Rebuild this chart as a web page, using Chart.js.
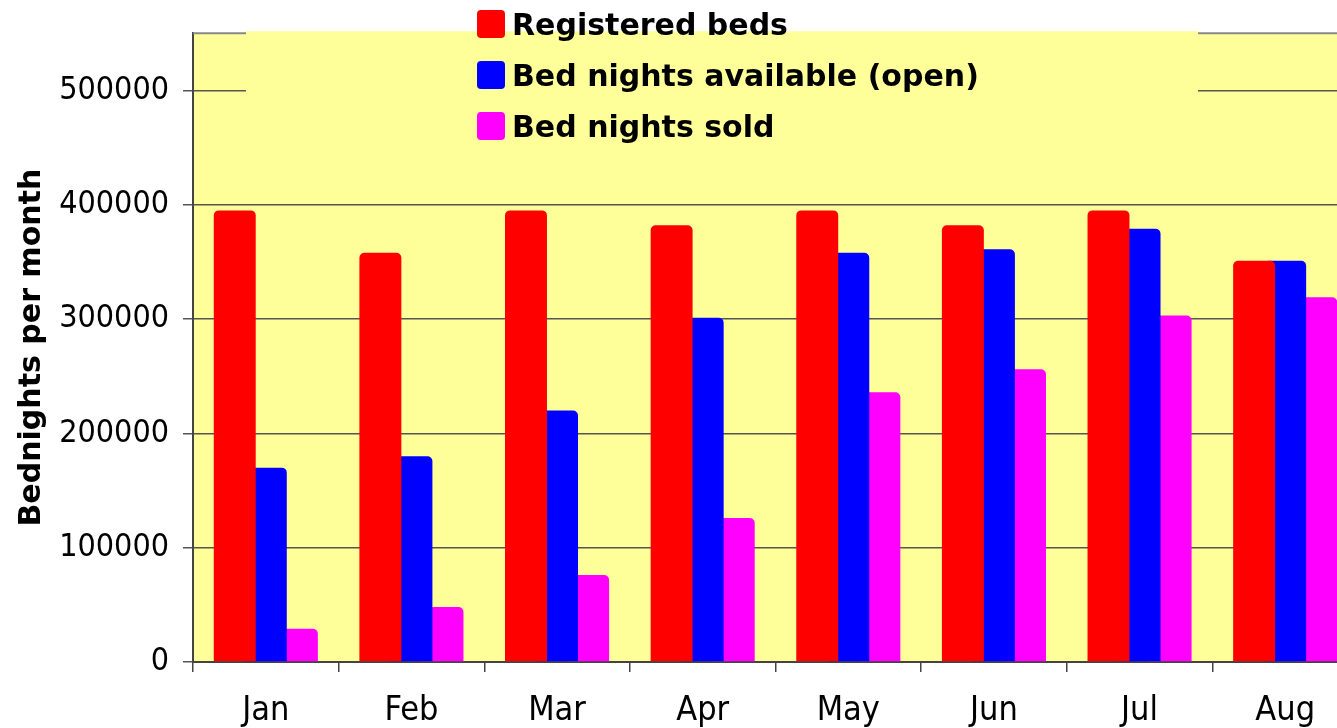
<!DOCTYPE html>
<html>
<head>
<meta charset="utf-8">
<script src="https://cdn.jsdelivr.net/npm/chart.js@4"></script>
<style>
  html, body { margin: 0; padding: 0; background: #fff; overflow: hidden; }
  #wrap { width: 1360px; height: 728px; }
</style>
</head>
<body>
<div id="wrap"><canvas id="chart"></canvas></div>
<script>
// Bednights per month chart

const months = ['Jan', 'Feb', 'Mar', 'Apr', 'May', 'Jun', 'Jul', 'Aug'];
const registeredBeds = [395000, 358000, 395000, 382000, 395000, 382000, 395000, 351000];
const bedNightsAvailable = [170000, 180000, 220000, 301000, 358000, 361000, 379000, 351000];
const bedNightsSold = [29000, 48000, 76000, 126000, 236000, 256000, 303000, 319000];
const yTicks = [0, 100000, 200000, 300000, 400000, 500000];

const FONT = '"DejaVu Sans Condensed", "DejaVu Sans", sans-serif';
const BOLD_FONT = '"DejaVu Sans", sans-serif';
const PLOT_BG = '#ffff99';

// --- Plot background, top border, legend box ---

const plotDecor = {
    id: 'plotDecor',
    beforeDraw(chart) {
        const { ctx, chartArea: a } = chart;
        ctx.save();
        ctx.fillStyle = PLOT_BG;
        ctx.fillRect(a.left, a.top, a.right - a.left, a.bottom - a.top);
        ctx.restore();
    },
    beforeDatasetsDraw(chart) {
        const { ctx, chartArea: a } = chart;
        ctx.save();
        // top border
        ctx.strokeStyle = '#888';
        ctx.lineWidth = 2;
        ctx.beginPath();
        ctx.moveTo(a.left, a.top);
        ctx.lineTo(a.right, a.top);
        ctx.stroke();
        // legend box hides lines behind it
        ctx.fillStyle = PLOT_BG;
        ctx.fillRect(246, a.top - 2, 1198 - 246, 130);
        ctx.restore();
    },
    afterDraw(chart) {
        const { ctx } = chart;
        ctx.save();
        ctx.font = 'bold 30px ' + BOLD_FONT;
        ctx.textBaseline = 'middle';
        ctx.textAlign = 'left';
        chart.data.datasets.forEach((ds, i) => {
            const y = 10 + i * 51;
            ctx.fillStyle = ds.backgroundColor;
            ctx.beginPath();
            ctx.roundRect(477, y, 28, 28, 4);
            ctx.fill();
            ctx.fillStyle = '#000';
            ctx.fillText(ds.label, 512, y + 17);
        });
        ctx.restore();
    }
};

const barOpts = {
    categoryPercentage: 0.64,
    barPercentage: 1.35,
    borderRadius: 5,
    borderSkipped: 'start',
};

new Chart(document.getElementById('chart'), {
    type: 'bar',
    data: {
        labels: months,
        datasets: [
            { label: 'Registered beds', data: registeredBeds, backgroundColor: '#ff0000', ...barOpts },
            { label: 'Bed nights available (open)', data: bedNightsAvailable, backgroundColor: '#0000ff', ...barOpts },
            { label: 'Bed nights sold', data: bedNightsSold, backgroundColor: '#ff00ff', ...barOpts },
        ],
    },
    options: {
        responsive: true,
        maintainAspectRatio: false,
        animation: false,
        layout: { padding: { top: 33, right: 2, left: 0, bottom: 0 } },
        plugins: {
            legend: { display: false },
            tooltip: { enabled: false },
        },
        scales: {
            x: {
                grid: {
                    offset: true,
                    drawOnChartArea: false,
                    drawTicks: true,
                    tickLength: 10,
                    color: '#444',
                    lineWidth: 1.5,
                },
                border: { color: '#444', width: 2 },
                ticks: {
                    color: '#000',
                    font: { family: FONT, size: 34 },
                    padding: 19,
                    maxRotation: 0,
                },
                afterFit(scale) { scale.height = 66; },
            },
            y: {
                min: 0,
                max: 550000,
                afterBuildTicks(scale) {
                    scale.ticks = yTicks.map(v => ({ value: v }));
                },
                grid: {
                    color: '#555',
                    lineWidth: 1.5,
                    tickLength: 10,
                },
                border: { color: '#444', width: 2 },
                ticks: {
                    color: '#000',
                    font: { family: FONT, size: 32 },
                    padding: 14,
                    callback: v => String(v),
                },
                title: {
                    display: true,
                    text: 'Bednights per month',
                    color: '#000',
                    font: { family: BOLD_FONT, size: 30, weight: 'bold' },
                    padding: { top: 14, bottom: 0 },
                },
                afterFit(scale) { scale.width = 193; },
            },
        },
    },
    plugins: [plotDecor],
});
</script>
</body>
</html>
